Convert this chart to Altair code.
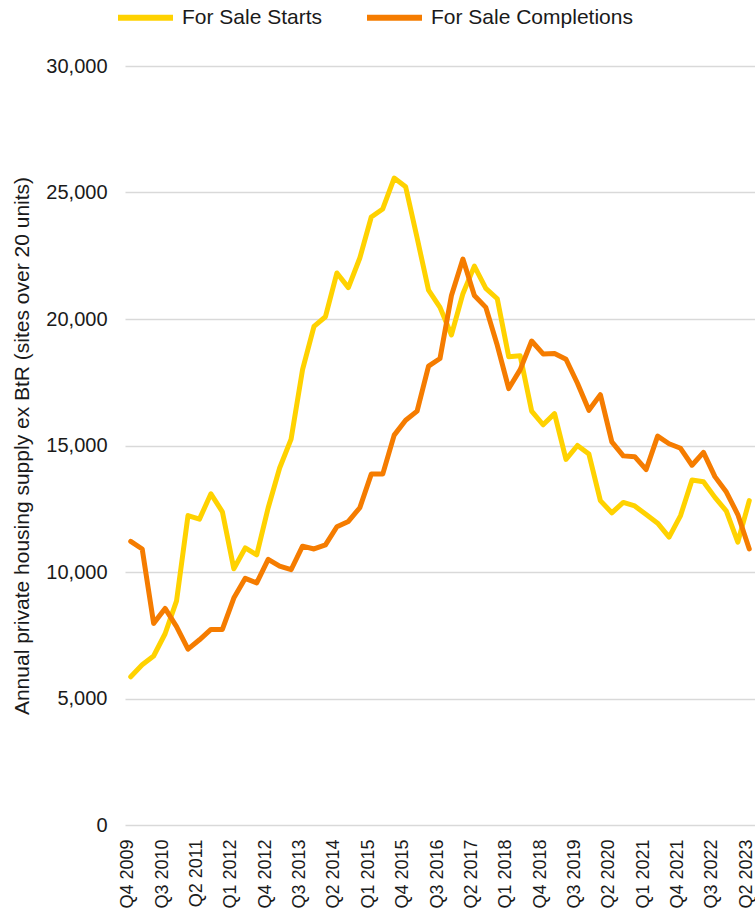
import altair as alt
import pandas as pd

quarters = []
q, yr = 4, 2009
while (yr, q) <= (2023, 2):
    quarters.append(f"Q{q} {yr}")
    q += 1
    if q > 4:
        q, yr = 1, yr + 1

starts = [5860, 6330, 6680, 7560, 8860, 12230, 12090, 13090, 12380, 10130,
          10950, 10680, 12540, 14110, 15250, 18000, 19710, 20090, 21820, 21240,
          22410, 24030, 24350, 25570, 25230, 23210, 21140, 20460, 19370, 21000,
          22090, 21210, 20800, 18510, 18550, 16360, 15820, 16260, 14450, 15000,
          14660, 12820, 12340, 12750, 12610, 12270, 11930, 11380, 12230, 13640,
          13570, 12950, 12410, 11180, 12820]

completions = [11210, 10910, 7970, 8560, 7840, 6950, 7320, 7730, 7730, 8970,
               9750, 9570, 10500, 10230, 10090, 11020, 10910, 11070, 11790, 12000,
               12540, 13870, 13870, 15410, 16000, 16360, 18140, 18440, 20930, 22370,
               20930, 20460, 18960, 17250, 18000, 19130, 18620, 18640, 18410, 17460,
               16390, 17010, 15140, 14590, 14560, 14050, 15370, 15070, 14890, 14220,
               14730, 13770, 13160, 12270, 10910]

series_names = ["For Sale Starts", "For Sale Completions"]
series_colors = ["#FFD200", "#F57C00"]
y_ticks = [0, 5000, 10000, 15000, 20000, 25000, 30000]
x_labels = quarters[::3]

rows = []
for name, vals in zip(series_names, [starts, completions]):
    for qq, v in zip(quarters, vals):
        rows.append({"quarter": qq, "value": v, "series": name})
df = pd.DataFrame(rows)

FONT = "Liberation Sans"

chart = alt.Chart(df).mark_line(
    strokeWidth=5, strokeCap="round", strokeJoin="round"
).encode(
    x=alt.X("quarter:O", sort=quarters,
            scale=alt.Scale(type="point", padding=0.5),
            axis=alt.Axis(values=x_labels, labelAngle=270, labelAlign="right",
                          labelBaseline="middle", labelPadding=14, labelOffset=-3,
                          ticks=False, domain=False, title=None, labelFontSize=18,
                          labelFont=FONT, labelColor="#1a1a1a", grid=False)),
    y=alt.Y("value:Q", scale=alt.Scale(domain=[0, 30000], nice=False),
            axis=alt.Axis(values=y_ticks, format=",.0f", ticks=False, domain=False,
                          labelPadding=18, labelFontSize=20, labelFont=FONT,
                          labelColor="#1a1a1a", gridColor="#d9d9d9", gridWidth=1.5,
                          title="Annual private housing supply ex BtR (sites over 20 units)",
                          titleFont=FONT, titleFontSize=21, titleFontWeight="normal",
                          titleColor="#1a1a1a", titleX=-103, titleY=379.5,
                          titleAngle=270, titleAlign="center", titleBaseline="middle")),
    color=alt.Color("series:N",
                    scale=alt.Scale(domain=series_names, range=series_colors),
                    legend=alt.Legend(title=None, orient="none", direction="horizontal",
                                      legendX=-10, legendY=-79,
                                      symbolType="stroke", symbolSize=3025,
                                      symbolStrokeWidth=6, labelFontSize=21,
                                      labelFont=FONT, labelColor="#1a1a1a",
                                      labelLimit=400,
                                      labelOffset=6, columnPadding=32)),
).properties(
    width=630, height=759,
    autosize=alt.AutoSizeParams(type="none"),
    padding={"left": 125, "top": 66, "right": 0, "bottom": 95},
).configure_view(stroke=None)

chart.save("out.html", embed_options={"renderer": "svg", "actions": False})
